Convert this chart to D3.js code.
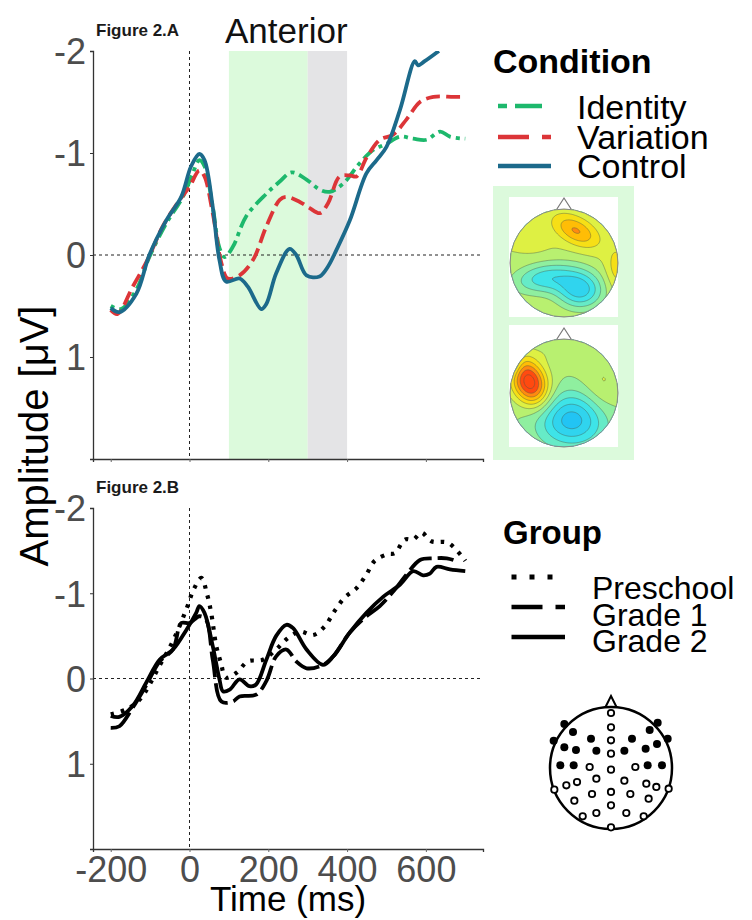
<!DOCTYPE html>
<html><head><meta charset="utf-8">
<script src="https://cdn.jsdelivr.net/npm/d3@7"></script>
<style>
html,body{margin:0;padding:0;background:#fff;}
svg{display:block;font-family:"Liberation Sans",Arial,sans-serif;}
</style></head>
<body><svg id="c" width="752" height="920"></svg>
<script>
// ---------- DATA ----------
const xTicks = [-200, 0, 200, 400, 600];
const yTicks = [-2, -1, 0, 1];
const conditionNames = ["Identity", "Variation", "Control"];
const groupNames = ["Preschool", "Grade 1", "Grade 2"];
const windowGreen = [100, 300];
const windowGray = [300, 400];

// Figure 2.A  [time ms, amplitude µV]
const identityA = [[-200,0.50],[-174,0.53],[-135,0.34],[-102,0.02],[-59,-0.31],[-17,-0.57],[8,-0.80],[25,-0.93],[38,-0.87],[59,-0.47],[76,-0.07],[89,0.02],[110,-0.08],[144,-0.38],[195,-0.60],[229,-0.72],[259,-0.81],[297,-0.74],[331,-0.64],[356,-0.62],[390,-0.70],[432,-0.90],[466,-1.03],[500,-1.09],[534,-1.16],[568,-1.14],[602,-1.13],[636,-1.21],[661,-1.16],[700,-1.14]];
const variationA = [[-200,0.54],[-183,0.58],[-144,0.31],[-107,0.05],[-68,-0.28],[-25,-0.54],[0,-0.67],[25,-0.83],[38,-0.77],[59,-0.41],[81,0.08],[97,0.23],[127,0.20],[161,0.05],[195,-0.28],[229,-0.54],[246,-0.57],[280,-0.52],[305,-0.46],[331,-0.41],[352,-0.51],[381,-0.77],[407,-0.78],[424,-0.77],[449,-0.95],[483,-1.13],[517,-1.18],[551,-1.33],[585,-1.50],[619,-1.55],[670,-1.55],[700,-1.55]];
const controlA = [[-200,0.52],[-178,0.56],[-135,0.38],[-102,0.00],[-59,-0.34],[-21,-0.57],[4,-0.87],[25,-0.99],[38,-0.93],[59,-0.47],[76,0.05],[93,0.26],[127,0.23],[148,0.31],[182,0.53],[195,0.48],[220,0.18],[254,-0.06],[271,0.00],[297,0.20],[330,0.21],[352,0.11],[373,-0.05],[407,-0.34],[449,-0.80],[475,-0.93],[500,-1.06],[534,-1.42],[572,-1.90],[580,-1.86],[597,-1.90],[633,-2.00]];

// Figure 2.B
const preschoolB = [[-200,0.42],[-160,0.36],[-125,0.24],[-75,-0.16],[-40,-0.46],[-5,-0.85],[10,-1.04],[30,-1.18],[45,-0.98],[55,-0.77],[68,-0.38],[80,-0.18],[92,-0.01],[120,-0.07],[148,-0.20],[186,-0.22],[220,-0.34],[246,-0.46],[280,-0.55],[314,-0.51],[343,-0.61],[368,-0.79],[394,-0.95],[424,-1.06],[449,-1.22],[470,-1.38],[504,-1.46],[521,-1.47],[547,-1.63],[568,-1.63],[589,-1.71],[614,-1.61],[657,-1.59],[700,-1.38]];
const grade1B = [[-200,0.58],[-178,0.56],[-144,0.34],[-110,0.08],[-76,-0.20],[-42,-0.34],[-21,-0.65],[0,-0.65],[25,-0.73],[42,-0.69],[59,-0.22],[81,0.27],[110,0.27],[127,0.21],[169,0.19],[195,0.03],[220,-0.26],[246,-0.34],[271,-0.20],[297,-0.12],[339,-0.16],[365,-0.26],[407,-0.54],[449,-0.73],[483,-0.85],[517,-1.02],[551,-1.22],[585,-1.39],[619,-1.41],[653,-1.41],[670,-1.39]];
const grade2B = [[-200,0.44],[-178,0.45],[-144,0.32],[-110,0.05],[-76,-0.22],[-42,-0.34],[-8,-0.57],[17,-0.77],[25,-0.85],[38,-0.77],[59,-0.38],[76,0.01],[85,0.15],[102,0.13],[127,0.01],[152,0.09],[169,0.07],[195,-0.22],[220,-0.50],[246,-0.63],[263,-0.59],[297,-0.34],[339,-0.16],[365,-0.26],[407,-0.54],[449,-0.77],[492,-0.96],[534,-1.10],[568,-1.26],[593,-1.21],[610,-1.23],[627,-1.31],[661,-1.28],[700,-1.26]];

// Topography sources (normalised head coords): x, y, amplitude, sx, sy, rotation(deg)
const topoIdentityBase = 0.1;
const topoIdentity = [[0.22,-0.6,0.62,0.32,0.17,28],[0.3,0.5,-0.9,0.3,0.24,0],[-0.35,0.28,-0.7,0.42,0.2,-8],[0.97,0.1,0.3,0.14,0.3,0],[-0.55,-0.45,0.08,0.2,0.2,0]];
const topoVariationBase = -0.05;
const topoVariation = [[-0.64,-0.2,1.3,0.22,0.32,-25],[0.15,0.5,-0.95,0.45,0.35,0],[0.7,-0.05,0.22,0.25,0.4,0],[0.0,-0.8,0.15,0.35,0.15,0],[-0.95,-0.55,-0.4,0.12,0.18,0]];

// Electrode layout (normalised head coords)
const electrodesFilled = [[-0.765,-0.721],[-0.623,-0.590],[-0.328,-0.481],[-0.940,-0.448],[-0.765,-0.339],[-0.574,-0.295],[-0.240,-0.284],[-0.831,-0.044],[-0.612,-0.044],[0.344,-0.481],[0.634,-0.623],[0.765,-0.743],[0.929,-0.481],[0.754,-0.393],[0.568,-0.317],[0.219,-0.284],[0.601,-0.044],[0.836,-0.044]];
const electrodesOpen = [[0,-0.902],[0,-0.667],[0,-0.454],[0,-0.235],[0,0.027],[0,0.393],[0,0.612],[0,0.973],[-0.350,-0.016],[0.399,-0.016],[-0.732,0.284],[-0.557,0.230],[-0.240,0.175],[0.219,0.208],[0.579,0.257],[0.743,0.311],[-0.929,0.355],[0.945,0.339],[-0.601,0.536],[-0.311,0.426],[0.317,0.426],[0.617,0.503],[-0.464,0.792],[-0.240,0.738],[0.251,0.738],[0.536,0.792]];

// ---------- DRAW ----------
const svg = d3.select("#c");
const x = d3.scaleLinear([-245, 745], [93, 483]);
const yA = d3.scaleLinear([-2, 2], [51, 459]);
const yB = d3.scaleLinear([-2, 2], [508, 849]);
const tickGray = "#4d4d4d";

const condColor = {Identity:"#1db86c", Variation:"#dc3538", Control:"#1c6a8b"};
const condDash = {Identity:"4 5 14 5", Variation:"14 6", Control:null};
const grpDash = {Preschool:"3.5 7", "Grade 1":"26 6", "Grade 2":null};

function panel(y, label, showXLabels, clipId) {
  const g = svg.append("g");
  svg.append("defs").append("clipPath").attr("id", clipId)
    .append("rect").attr("x", x.range()[0]).attr("y", y.range()[0])
    .attr("width", x.range()[1]-x.range()[0]).attr("height", y.range()[1]-y.range()[0]);
  const ya = g.append("g").attr("transform", `translate(${x.range()[0]},0)`)
    .call(d3.axisLeft(y).tickValues(yTicks).tickSize(3).tickPadding(4).tickFormat(d3.format("d")));
  ya.select(".domain").attr("stroke", "#333").attr("stroke-width", 1.3);
  ya.selectAll(".tick line").attr("stroke", "#333");
  ya.selectAll(".tick text").attr("fill", tickGray).attr("font-size", 36)
    .attr("font-family", "Liberation Sans, Arial, sans-serif").attr("dy", "0.36em").text(d => d < 0 ? "-" + Math.abs(d) : d);
  const xa = g.append("g").attr("transform", `translate(0,${y.range()[1]})`)
    .call(d3.axisBottom(x).tickValues(xTicks).tickSize(3).tickPadding(4));
  xa.select(".domain").attr("stroke", "#333").attr("stroke-width", 1.3);
  xa.selectAll(".tick line").attr("stroke", "#666");
  if (showXLabels) {
    xa.selectAll(".tick text").attr("fill", tickGray).attr("font-size", 36)
      .attr("font-family", "Liberation Sans, Arial, sans-serif").attr("dy", "0.72em").text(d => d < 0 ? "-" + Math.abs(d) : d);
  } else xa.selectAll(".tick text").remove();
  g.append("text").attr("x", 96).attr("y", y.range()[0] - 15).attr("font-size", 17).attr("font-weight", "bold")
    .attr("fill", "#1a1a1a").text(label);
  return g;
}

function refLines(g, y) {
  g.append("line").attr("x1", x(0)).attr("x2", x(0)).attr("y1", y.range()[0]).attr("y2", y.range()[1])
    .attr("stroke", "#222").attr("stroke-width", 1).attr("stroke-dasharray", "3 3");
  g.append("line").attr("x1", x.range()[0]).attr("x2", x.range()[1]).attr("y1", y(0)).attr("y2", y(0))
    .attr("stroke", "#222").attr("stroke-width", 1).attr("stroke-dasharray", "3 3");
}

// Panel A
const gA = svg.append("g");
gA.append("rect").attr("x", x(windowGreen[0])).attr("width", x(windowGreen[1]) - x(windowGreen[0]))
  .attr("y", yA(-2)).attr("height", yA(2) - yA(-2)).attr("fill", "#dcfadc");
gA.append("rect").attr("x", x(windowGray[0])).attr("width", x(windowGray[1]) - x(windowGray[0]))
  .attr("y", yA(-2)).attr("height", yA(2) - yA(-2)).attr("fill", "#e4e4e6");
panel(yA, "Figure 2.A", false, "clipA");
refLines(gA, yA);
svg.append("text").attr("x", 225).attr("y", 43).attr("font-size", 35).attr("fill", "#111").text("Anterior");

const lineA = d3.line().x(d => x(d[0])).y(d => yA(d[1])).curve(d3.curveCatmullRom.alpha(0.5));
const seriesA = [["Identity", identityA], ["Variation", variationA], ["Control", controlA]];
const gLA = svg.append("g").attr("clip-path", "url(#clipA)");
seriesA.forEach(([name, data]) => {
  gLA.append("path").attr("d", lineA(data)).attr("fill", "none")
    .attr("stroke", condColor[name]).attr("stroke-width", 3.8)
    .attr("stroke-dasharray", condDash[name]).attr("stroke-linejoin", "round");
});

// Panel B
const gB = svg.append("g");
panel(yB, "Figure 2.B", true, "clipB");
refLines(gB, yB);
const lineB = d3.line().x(d => x(d[0])).y(d => yB(d[1])).curve(d3.curveCatmullRom.alpha(0.5));
const seriesB = [["Preschool", preschoolB], ["Grade 1", grade1B], ["Grade 2", grade2B]];
const gLB = svg.append("g").attr("clip-path", "url(#clipB)");
seriesB.forEach(([name, data]) => {
  gLB.append("path").attr("d", lineB(data)).attr("fill", "none")
    .attr("stroke", "#000").attr("stroke-width", name === "Preschool" ? 4.2 : 3.8)
    .attr("stroke-dasharray", grpDash[name]).attr("stroke-linejoin", "round");
});

// axis titles
svg.append("text").attr("x", 288).attr("y", 911).attr("text-anchor", "middle").attr("font-size", 35)
  .attr("fill", "#000").text("Time (ms)");
svg.append("text").attr("transform", "translate(48,436) rotate(-90)").attr("text-anchor", "middle")
  .attr("font-size", 40).attr("fill", "#000").text("Amplitude [μV]");

// Legends
const legC = svg.append("g");
legC.append("text").attr("x", 493).attr("y", 73).attr("font-size", 34).attr("font-weight", "bold").text("Condition");
const condKeyY = [106, 137, 166], condTextY = [119, 149, 178];
const condKeyDash = {Identity:"9 8 27 20", Variation:"31 13", Control:null};
conditionNames.forEach((n, i) => {
  legC.append("line").attr("x1", 498).attr("x2", 551).attr("y1", condKeyY[i]).attr("y2", condKeyY[i])
    .attr("stroke", condColor[n]).attr("stroke-width", 4.5).attr("stroke-dasharray", condKeyDash[n]);
  legC.append("text").attr("x", 577).attr("y", condTextY[i]).attr("font-size", 34).text(n);
});

const legG = svg.append("g");
legG.append("text").attr("x", 503).attr("y", 544).attr("font-size", 33).attr("font-weight", "bold").text("Group");
const grpKeyY = [577, 607, 637], grpTextY = [599, 626, 652];
const grpKeyDash = {Preschool:"5 13", "Grade 1":"31 13", "Grade 2":null};
groupNames.forEach((n, i) => {
  legG.append("line").attr("x1", 511.5).attr("x2", 565).attr("y1", grpKeyY[i]).attr("y2", grpKeyY[i])
    .attr("stroke", "#000").attr("stroke-width", n === "Preschool" ? 5 : 4.5).attr("stroke-dasharray", grpKeyDash[n]);
  legG.append("text").attr("x", 592).attr("y", grpTextY[i]).attr("font-size", 32).text(n);
});

// Topomaps
svg.append("rect").attr("x", 493).attr("y", 186).attr("width", 141).attr("height", 274).attr("fill", "#dcfadc");
svg.append("rect").attr("x", 509).attr("y", 197).attr("width", 109).attr("height", 120).attr("fill", "#fff");
svg.append("rect").attr("x", 509).attr("y", 325).attr("width", 109).attr("height", 122).attr("fill", "#fff");

const topoColor = d3.scaleLinear()
  .domain([-1, -0.6, -0.3, 0, 0.25, 0.5, 0.75, 1.0])
  .range(["#22c4f4", "#3ee4e8", "#7aeeb6", "#b8f070", "#e8f038", "#ffd400", "#ff9a10", "#ff4a10"])
  .clamp(true);

function topo(cx, cy, r, base, sources, id) {
  const n = 80;
  const vals = new Array(n * n);
  for (let j = 0; j < n; j++) for (let i = 0; i < n; i++) {
    const u = (i + 0.5) / n * 2 - 1, v = (j + 0.5) / n * 2 - 1;
    let s = base;
    sources.forEach(([sx0, sy0, a, sx, sy, rot]) => {
      const t = rot * Math.PI / 180, du = u - sx0, dv = v - sy0;
      const p = du * Math.cos(t) + dv * Math.sin(t), q = -du * Math.sin(t) + dv * Math.cos(t);
      s += a * Math.exp(-(p * p / (2 * sx * sx) + q * q / (2 * sy * sy)));
    });
    vals[j * n + i] = s;
  }
  const thresholds = d3.range(-1.3, 1.6, 0.2);
  const contours = d3.contours().size([n, n]).thresholds(thresholds)(vals);
  const proj = d3.geoTransform({point: function(px, py) { this.stream.point(cx - r + px / n * 2 * r, cy - r + py / n * 2 * r); }});
  const path = d3.geoPath(proj);
  svg.append("defs").append("clipPath").attr("id", id).append("circle").attr("cx", cx).attr("cy", cy).attr("r", r);
  const g = svg.append("g");
  g.append("path").attr("d", `M${cx-9},${cy-r+3} L${cx},${cy-r-11} L${cx+9},${cy-r+3}`)
    .attr("fill", "none").attr("stroke", "#777").attr("stroke-width", 1.2);
  const gc = g.append("g").attr("clip-path", `url(#${id})`);
  gc.append("circle").attr("cx", cx).attr("cy", cy).attr("r", r).attr("fill", topoColor(thresholds[0]));
  gc.selectAll("path.c").data(contours).join("path").attr("class", "c").attr("d", path)
    .attr("fill", d => topoColor(d.value + 0.1)).attr("stroke", "#4a5a4a").attr("stroke-opacity", 0.6).attr("stroke-width", 0.7);
  g.append("circle").attr("cx", cx).attr("cy", cy).attr("r", r).attr("fill", "none").attr("stroke", "#888").attr("stroke-width", 1);
}
topo(564, 263, 54, topoIdentityBase, topoIdentity, "tp1");
topo(564, 393, 54, topoVariationBase, topoVariation, "tp2");

// Electrode map
const ecx = 611, ecy = 768, er = 61;
const ex = d3.scaleLinear([-1, 1], [ecx - er, ecx + er]);
const ey = d3.scaleLinear([-1, 1], [ecy - er, ecy + er]);
const ge = svg.append("g");
ge.append("path").attr("d", `M${ecx-6},${ecy-er+1} L${ecx},${ecy-er-11} L${ecx+6},${ecy-er+1}`)
  .attr("fill", "#fff").attr("stroke", "#000").attr("stroke-width", 2);
ge.append("circle").attr("cx", ecx).attr("cy", ecy).attr("r", er).attr("fill", "#fff").attr("stroke", "#000").attr("stroke-width", 2.5);
ge.selectAll("circle.f").data(electrodesFilled).join("circle").attr("class", "f")
  .attr("cx", d => ex(d[0])).attr("cy", d => ey(d[1])).attr("r", 4).attr("fill", "#000");
ge.selectAll("circle.o").data(electrodesOpen).join("circle").attr("class", "o")
  .attr("cx", d => ex(d[0])).attr("cy", d => ey(d[1])).attr("r", 3.2).attr("fill", "#fff").attr("stroke", "#000").attr("stroke-width", 1.8);
</script></body></html>
